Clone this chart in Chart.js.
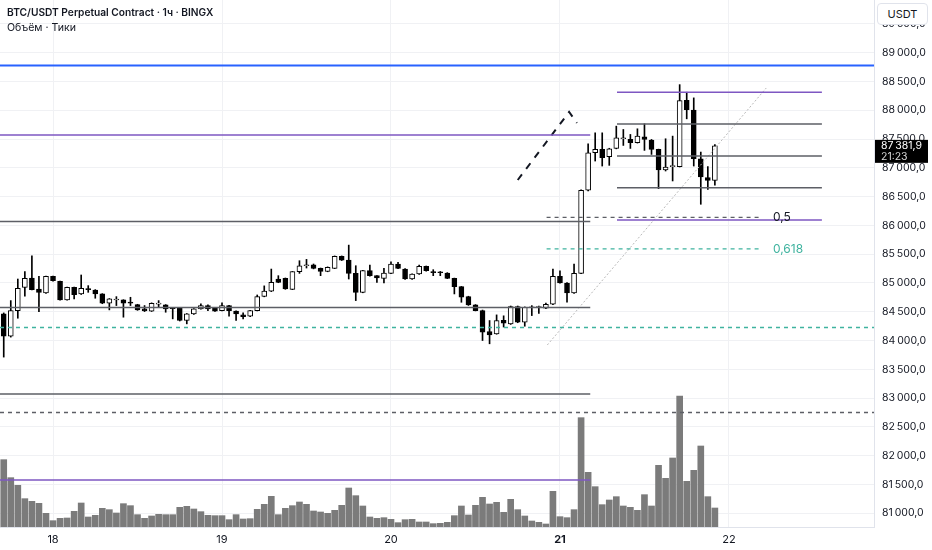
<!DOCTYPE html>
<html>
<head>
<meta charset="utf-8">
<script src="https://cdn.jsdelivr.net/npm/chart.js@4.4.1/dist/chart.umd.min.js"></script>
<style>
  html, body { margin: 0; padding: 0; background: #fff; }
  #wrap { position: relative; width: 932px; height: 550px; }
  #legend { position: absolute; left: 7px; top: 5px; font-family: Inter, sans-serif; font-size: 10px; line-height: 15px; color: #131722; }
  #legend .t { font-weight: 600; font-size: 10.2px; }
  #legend .s { font-size: 10.6px; }
  #unit { position: absolute; left: 877px; top: 3px; width: 49px; height: 20px; border: 1px solid #e0e3eb; border-radius: 4px;
          background: #fff; font: 11px Inter, sans-serif; color: #131722; text-align: center; line-height: 20px; }
</style>
</head>
<body>
<div id="wrap">
  <canvas id="chart" width="932" height="550"></canvas>
  <div id="legend">
    <div class="t">BTC/USDT Perpetual Contract · 1ч · BINGX</div>
    <div class="s">Объём · Тики</div>
  </div>
  <div id="unit">USDT</div>
</div>
<script>
// hours counted from 18th 00:00, first candle is 17th 17:00
const firstHour = -7;

const open = [84463,84077,84521,84925,85087,84896,84827,85115,85029,84706,
  84925,84810,84896,84879,84810,84648,84705,84706,84660,84625,
  84550,84510,84634,84619,84563,84567,84348,84463,84550,84608,
  84567,84521,84608,84510,84446,84423,84521,84765,84856,85069,
  85081,84890,85196,85300,85317,85254,85202,85254,85462,85398,
  85167,84838,85214,85127,85081,85167,85329,85242,85069,85156,
  85289,85200,85185,85173,85081,84936,84763,84619,84521,84157,
  84117,84350,84290,84590,84318,84570,84575,84561,84630,85115,
  85000,84826,85167,86610,87262,87320,87193,87337,87505,87493,
  87435,87539,87482,87320,86962,87020,87020,88174,88001,87158,
  86829,86783];
const high = [84480,84694,85069,85196,85473,85115,85120,85120,85035,84930,
  84930,85139,84954,84885,84815,84730,84763,84710,84752,84630,
  84608,84655,84694,84625,84565,84572,84470,84555,84636,84619,
  84572,84654,84612,84515,84481,84525,84792,84950,85242,85127,
  85087,85200,85387,85410,85330,85260,85280,85470,85470,85658,
  85300,85220,85312,85130,85254,85369,85358,85250,85160,85312,
  85295,85231,85200,85180,85085,84940,84770,84625,84530,84348,
  84446,84430,84600,84600,84585,84607,84600,84653,85242,85213,
  85005,85329,86620,87418,87608,87608,87340,87724,87666,87580,
  87678,87764,87493,87325,87505,87551,88445,88313,88215,87274,
  87020,87406];
const low = [83713,84060,84388,84769,84880,84504,84820,85030,84700,84700,
  84723,84800,84838,84735,84640,84533,84608,84406,84608,84525,
  84504,84505,84579,84492,84377,84340,84290,84455,84545,84521,
  84505,84515,84423,84348,84377,84415,84515,84760,84850,85005,
  84890,84885,85167,85260,85245,85127,85195,85250,85390,85069,
  84694,84830,85120,85011,85000,85160,85250,85060,85060,85150,
  85205,85127,85127,85075,84810,84665,84610,84515,84001,83944,
  84110,84235,84280,84310,84249,84434,84470,84555,84625,84995,
  84665,84820,85160,86600,87118,87031,87043,87330,87389,87337,
  87430,87303,87233,86639,86945,86772,87015,87851,87031,86367,
  86627,86697];
const close = [84077,84521,84908,85081,84885,84838,85115,85040,84706,84925,
  84798,84908,84885,84810,84648,84723,84715,84648,84650,84533,
  84515,84648,84644,84550,84553,84348,84463,84550,84608,84550,
  84510,84608,84521,84463,84417,84521,84763,84860,85011,85011,
  84896,85196,85300,85310,85254,85202,85271,85462,85398,85167,
  84838,85214,85127,85087,85173,85329,85254,85069,85156,85289,
  85214,85180,85178,85081,84936,84752,84619,84521,84146,84100,
  84348,84300,84590,84318,84578,84578,84582,84630,85115,85000,
  84826,85167,86610,87262,87320,87176,87331,87522,87512,87435,
  87551,87493,87320,86962,87014,87026,88168,88012,87158,86841,
  86783,87381.9];
const volume = [2020,1480,1250,850,770,710,410,190,260,270,
  470,720,300,350,560,520,420,700,640,370,
  260,330,380,370,370,590,620,540,460,350,
  340,340,220,370,240,250,530,680,920,370,
  560,640,750,680,480,450,410,500,650,1170,
  940,630,300,260,280,230,130,220,230,150,
  150,100,110,140,340,630,360,650,890,690,
  740,440,830,520,330,180,140,90,1070,310,
  280,520,3280,1640,1210,670,810,910,630,590,
  500,970,630,1850,1460,2070,3930,1370,1700,2430,
  910,570];

const dayTicks = [0, 24, 48, 72, 96];
const dayLabels = ['18', '19', '20', '21', '22'];
const priceTicks = [81000, 81500, 82000, 82500, 83000, 83500, 84000, 84500, 85000,
  85500, 86000, 86500, 87000, 87500, 88000, 88500, 89000, 89500];

// drawings (prices, spans in hours)
const leftLevels = [87570, 86068, 84575, 83072, 81579];
const leftLevelEnd = 76.3;
const wideLevels = [88777, 84227, 82751];
const boxLevels = [88312, 87761, 87206, 86655, 86094];
const boxSpan = [80.1, 109.2];
const fibLevels = [86141, 85591];
const fibLabels = ['0,5', '0,618'];
const fibSpan = [70.1, 100.4];
const trendLine = [[70.2, 83923], [101.3, 88387]];
const arrowPath = [[66.0, 86789], [73.3, 87970], [74.4, 87779]];
const countdown = '21:23';

const xMin = -7.53, xMax = 116.6;
const yMin = 80762, yMax = 89915;
const volMax = 15810;

const hours = open.map((_, i) => firstHour + i);
const purple = '#7e57c2', gray = '#5d5f66', teal = '#3fb39f', blue = '#2962ff';

const fmtPrice = v => {
  const [int, dec] = v.toFixed(1).split('.');
  return int.slice(0, -3) + '\u2009' + int.slice(-3) + ',' + dec;
};

const seg = (pts, color, width, dash) => ({
  type: 'line',
  data: pts.map(([x, y]) => ({ x, y })),
  borderColor: color,
  borderWidth: width,
  borderDash: dash || [],
  pointRadius: 0,
  fill: false,
  tension: 0,
  order: 0,
});

const lines = [
  seg([[xMin, wideLevels[0]], [xMax, wideLevels[0]]], blue, 2),
  seg([[xMin, wideLevels[1]], [xMax, wideLevels[1]]], teal, 1.5, [4, 4]),
  seg([[xMin, wideLevels[2]], [xMax, wideLevels[2]]], gray, 1.5, [4, 4]),
  ...leftLevels.map((p, i) => seg([[xMin, p], [leftLevelEnd, p]], (i === 0 || i === 4) ? purple : gray, 1.6)),
  ...boxLevels.map((p, i) => seg([[boxSpan[0], p], [boxSpan[1], p]], (i === 0 || i === 4) ? purple : gray, 1.6)),
  seg([[fibSpan[0], fibLevels[0]], [fibSpan[1], fibLevels[0]]], gray, 1.3, [4, 4]),
  seg([[fibSpan[0], fibLevels[1]], [fibSpan[1], fibLevels[1]]], teal, 1.3, [4, 4]),
  seg(trendLine, '#b8b8b8', 1, [2, 2]),
  seg(arrowPath, '#131722', 2, [7, 7]),
];

const overlay = {
  id: 'overlay',
  afterDraw(chart) {
    const { ctx: c, scales: { x, y }, chartArea } = chart;
    c.save();
    c.font = '12px Inter, sans-serif';
    c.textBaseline = 'middle';
    const fibColors = ['#131722', teal];
    fibLevels.forEach((p, i) => {
      c.fillStyle = fibColors[i];
      c.fillText(fibLabels[i], x.getPixelForValue(fibSpan[1]) + 13, y.getPixelForValue(p));
    });
    const last = close[close.length - 1];
    const py = y.getPixelForValue(last);
    c.fillStyle = '#000';
    c.fillRect(chartArea.right + 1, py - 6, 53, 23);
    c.fillStyle = '#fff';
    c.font = '10.5px Inter, sans-serif';
    c.fillText(fmtPrice(last), chartArea.right + 7, py);
    c.fillStyle = '#d8d8d8';
    c.fillText(countdown, chartArea.right + 7, py + 11);
    c.restore();
  }
};

new Chart(document.getElementById('chart'), {
  type: 'bar',
  data: {
    datasets: [
      ...lines,
      {
        type: 'bar',
        data: hours.map((h, i) => ({ x: h, y: [open[i], close[i]] })),
        backgroundColor: open.map((o, i) => close[i] >= o ? '#ffffff' : '#000000'),
        borderColor: '#000000',
        borderWidth: 1,
        borderSkipped: false,
        barThickness: 5,
        minBarLength: 1,
        grouped: false,
        order: 1,
      },
      {
        type: 'bar',
        data: hours.map((h, i) => ({ x: h, y: [low[i], high[i]] })),
        backgroundColor: '#000000',
        barThickness: 1,
        grouped: false,
        order: 2,
      },
      {
        type: 'bar',
        yAxisID: 'yv',
        data: hours.map((h, i) => ({ x: h, y: volume[i] })),
        backgroundColor: '#7b7b7b',
        barThickness: 6,
        grouped: false,
        order: 3,
      },
    ],
  },
  options: {
    responsive: false,
    animation: false,
    events: [],
    layout: { padding: 0 },
    plugins: { legend: { display: false }, tooltip: { enabled: false } },
    scales: {
      x: {
        type: 'linear',
        min: xMin,
        max: xMax,
        offset: false,
        afterBuildTicks: s => { s.ticks = dayTicks.map(v => ({ value: v })); },
        afterFit: s => { s.height = 23; s.paddingLeft = 0; s.paddingRight = 0; },
        grid: { color: '#f0f1f4', drawTicks: false, offset: false },
        border: { color: '#e0e3eb' },
        ticks: {
          padding: 6,
          color: '#131722',
          autoSkip: false,
          maxRotation: 0,
          font: c => ({ family: 'Inter', size: 11, weight: c.tick && c.tick.value === 72 ? 'bold' : 'normal' }),
          callback: v => dayLabels[dayTicks.indexOf(v)],
        },
      },
      y: {
        position: 'right',
        min: yMin,
        max: yMax,
        afterBuildTicks: s => { s.ticks = priceTicks.map(v => ({ value: v })); },
        afterFit: s => { s.width = 58; s.paddingTop = 0; s.paddingBottom = 0; },
        grid: { color: '#f0f1f4', drawTicks: false },
        border: { color: '#e0e3eb' },
        ticks: {
          padding: 8,
          color: '#131722',
          font: { family: 'Inter', size: 10.5 },
          callback: v => fmtPrice(v),
        },
      },
      yv: { display: false, min: 0, max: volMax },
    },
  },
  plugins: [overlay],
});
</script>
</body>
</html>
